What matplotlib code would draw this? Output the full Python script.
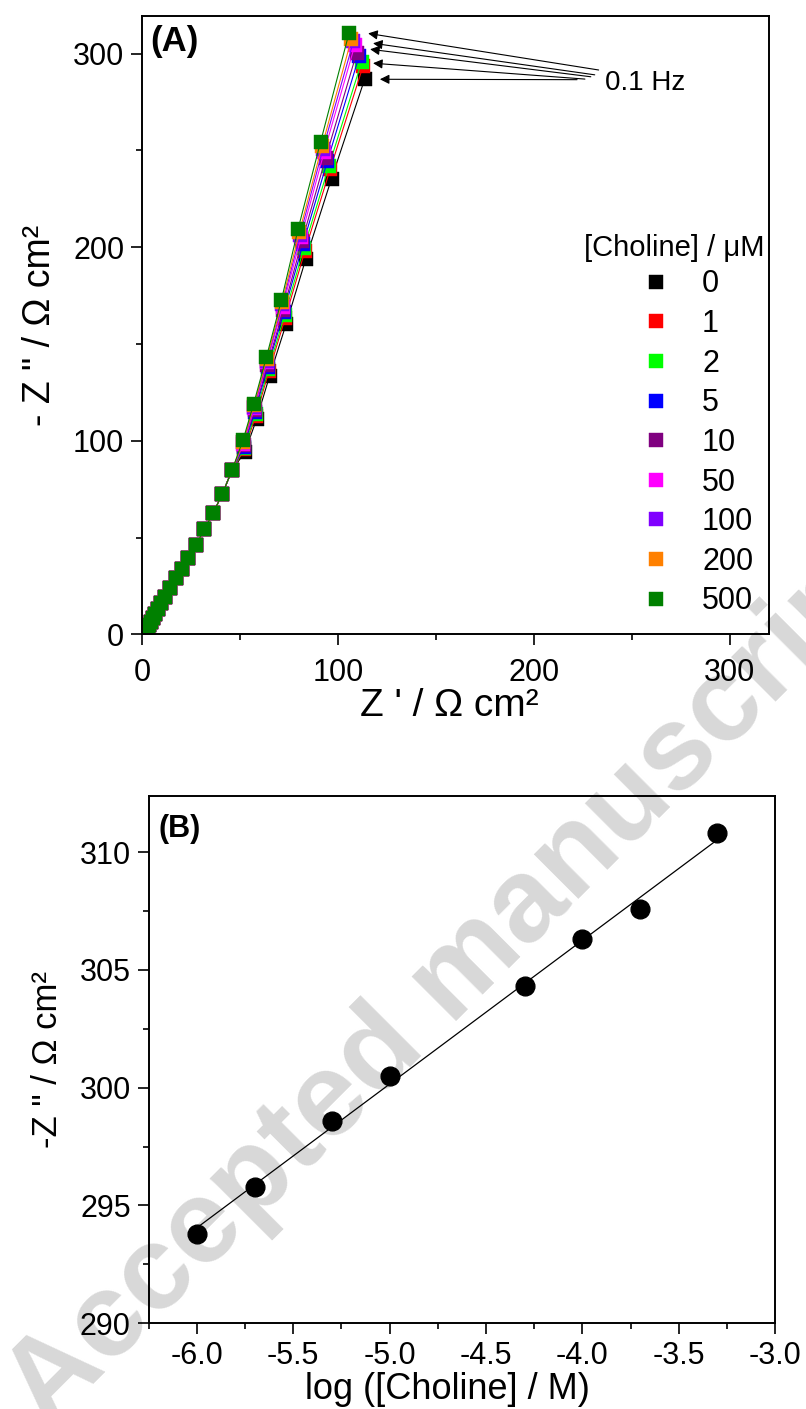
import numpy as np
import matplotlib
matplotlib.use('Agg')
import matplotlib.pyplot as plt

plt.rcParams['font.family'] = ['Liberation Sans', 'DejaVu Sans']

# ---- panel A data (Nyquist plots) ----
conc_labels = ['0', '1', '2', '5', '10', '50', '100', '200', '500']
colors = ['#000000', '#ff0000', '#00ff00', '#0000ff', '#800080',
          '#ff00ff', '#8000ff', '#ff8000', '#008000']

# low-frequency points (0.1 Hz first) that separate between concentrations
lf_re = [
    [113.6, 96.6, 83.5, 73.5, 65.0, 58.3, 52.3],
    [112.8, 96.0, 83.0, 73.0, 64.7, 58.0, 52.1],
    [112.0, 95.3, 82.5, 72.7, 64.4, 57.8, 52.0],
    [110.7, 94.5, 82.0, 72.3, 64.1, 57.5, 51.8],
    [109.5, 93.6, 81.5, 72.0, 63.9, 57.3, 51.7],
    [108.5, 92.8, 81.0, 71.7, 63.7, 57.2, 51.6],
    [107.8, 92.2, 80.6, 71.5, 63.6, 57.1, 51.5],
    [106.8, 91.7, 80.2, 71.3, 63.5, 57.0, 51.5],
    [105.6, 91.0, 79.6, 71.0, 63.3, 56.8, 51.4],
]
lf_im = [
    [287.0, 235.4, 194.0, 160.5, 133.5, 111.0, 94.0],
    [293.8, 240.5, 198.0, 163.5, 136.0, 113.0, 95.5],
    [295.8, 242.0, 199.5, 165.0, 137.0, 114.0, 96.3],
    [298.6, 244.5, 201.5, 166.5, 138.3, 115.0, 97.0],
    [300.5, 246.0, 203.0, 167.5, 139.2, 115.7, 97.6],
    [304.3, 249.0, 205.0, 169.3, 140.5, 116.8, 98.5],
    [306.3, 250.7, 206.5, 170.5, 141.4, 117.5, 99.1],
    [307.6, 252.0, 207.8, 171.5, 142.2, 118.2, 99.6],
    [310.8, 254.3, 209.6, 172.6, 143.0, 118.9, 100.3],
]
# high-frequency points, practically identical for all concentrations
hf_re = [45.8, 40.8, 36.1, 31.6, 27.4, 23.5, 20.4, 17.2, 14.1, 11.6,
         9.6, 8.0, 6.6, 5.4, 4.4, 3.6, 3.0, 2.5, 2.1]
hf_im = [84.8, 72.4, 62.5, 54.2, 46.1, 39.2, 33.7, 28.9, 23.7, 19.4,
         16.0, 13.0, 10.4, 8.2, 6.3, 4.7, 3.3, 2.1, 1.0]

# ---- panel B data ----
log_conc = [-6.0, -5.7, -5.3, -5.0, -4.3, -4.0, -3.7, -3.3]
z_im_01 = [293.8, 295.8, 298.6, 300.5, 304.3, 306.3, 307.6, 310.8]

fig = plt.figure(figsize=(8.06, 14.09), dpi=100)

fig.text(0.565, 0.305, 'Accepted manuscript', rotation=45, fontsize=86,
         fontweight='bold', color='#d8d8d8', ha='center', va='center',
         zorder=-1)

# ---------------- panel A ----------------
ax1 = fig.add_axes([0.1766, 0.5498, 0.7775, 0.4390])
ax1.set_facecolor('none')
for i in range(len(conc_labels)):
    x = lf_re[i] + hf_re
    y = lf_im[i] + hf_im
    ax1.plot(x, y, '-', color=colors[i], lw=0.8)
    ax1.plot(x, y, 's', color=colors[i], ms=10, mec=colors[i], mew=0.3,
             label=conc_labels[i], ls='none')

ax1.set_xlim(0, 320)
ax1.set_ylim(0, 319.5)
ax1.set_xticks([0, 100, 200, 300])
ax1.set_yticks([0, 100, 200, 300])
ax1.set_xticks(np.arange(50, 320, 100), minor=True)
ax1.set_yticks(np.arange(50, 320, 100), minor=True)
ax1.set_xlabel("Z ' / \u03A9 cm\u00B2", fontsize=28)
ax1.set_ylabel('- Z " / \u03A9 cm\u00B2', fontsize=27)
ax1.yaxis.set_label_coords(-0.135, 0.5)
ax1.xaxis.set_label_coords(0.49, -0.087)
ax1.text(0.012, 0.985, '(A)', transform=ax1.transAxes, fontsize=25,
         fontweight='bold', ha='left', va='top')

# arrows pointing at the 0.1 Hz points
tips = [(115.3, 310.4), (117.8, 305.3), (116.3, 302.2), (117.8, 295.0), (121.3, 286.7)]
tails = [(233, 291.5), (231, 289.0), (229, 288.0), (226, 286.8), (222, 286.5)]
for tp, tl in zip(tips, tails):
    ax1.annotate('', xy=tp, xytext=tl,
                 arrowprops=dict(arrowstyle='-|>', color='black', lw=0.8,
                                 mutation_scale=14, shrinkA=0, shrinkB=0))
ax1.text(236, 285, '0.1 Hz', fontsize=20, ha='left', va='center')

ax1.text(317.7, 199.4, '[Choline] / \u03BCM', fontsize=21, ha='right',
         va='center')
leg = ax1.legend(loc='upper right', bbox_to_anchor=(0.975, 0.590),
                 frameon=False, fontsize=22, handlelength=1.0,
                 handletextpad=1.0, labelspacing=0.315, borderpad=0,
                 borderaxespad=0)

# ---------------- panel B ----------------
ax2 = fig.add_axes([0.1845, 0.0610, 0.7771, 0.3742])
ax2.set_facecolor('none')
slope, icpt = np.polyfit(log_conc, z_im_01, 1)
xf = np.array([min(log_conc), max(log_conc)])
ax2.plot(xf, slope * xf + icpt, '-', color='black', lw=0.9)
ax2.plot(log_conc, z_im_01, 'o', color='black', ms=13.5)
ax2.set_xlim(-6.25, -3.0)
ax2.set_ylim(290, 312.4)
ax2.set_xticks(np.arange(-6.0, -2.99, 0.5))
ax2.set_xticklabels(['-6.0', '-5.5', '-5.0', '-4.5', '-4.0', '-3.5', '-3.0'])
ax2.set_xticks(np.arange(-6.25, -3.0, 0.5), minor=True)
ax2.set_yticks(np.arange(290, 311, 5))
ax2.set_yticks(np.arange(292.5, 312, 5), minor=True)
ax2.set_xlabel('log ([Choline] / M)', fontsize=26)
ax2.set_ylabel('-Z " / \u03A9 cm\u00B2', fontsize=25)
ax2.yaxis.set_label_coords(-0.135, 0.5)
ax2.xaxis.set_label_coords(0.477, -0.093)
ax2.text(0.015, 0.965, '(B)', transform=ax2.transAxes, fontsize=22,
         fontweight='bold', ha='left', va='top')

for ax in (ax1, ax2):
    for s in ax.spines.values():
        s.set_linewidth(1.4)
    ax.tick_params(which='major', direction='out', length=8, width=1.2,
                   labelsize=22, pad=5)
    ax.tick_params(which='minor', direction='out', length=4.5, width=1.2)
ax1.tick_params(axis='x', which='major', pad=9)

fig.savefig('out.png', dpi=100)
